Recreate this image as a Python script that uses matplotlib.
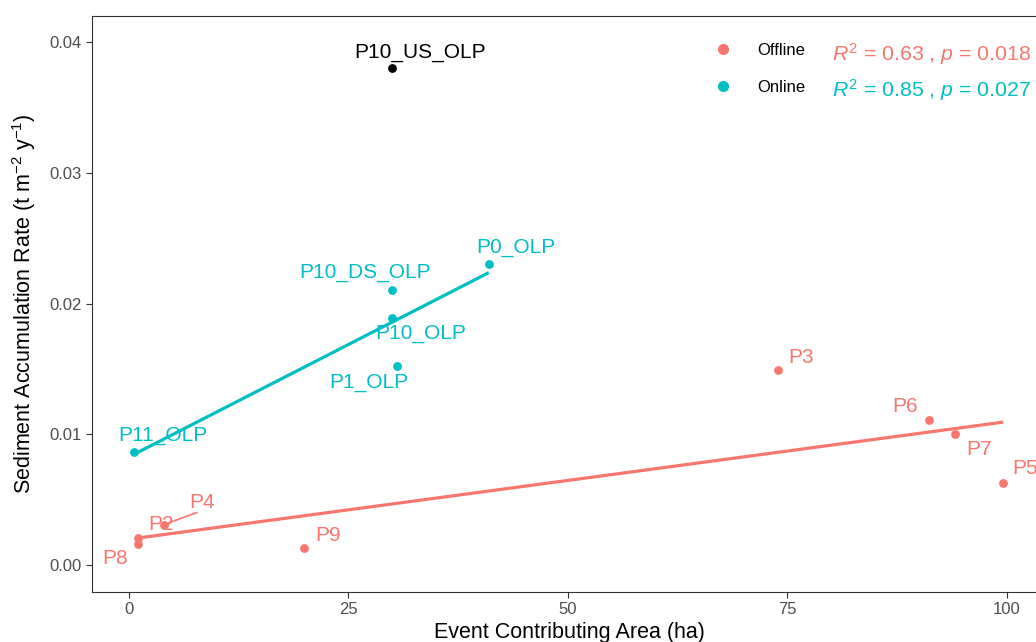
import numpy as np
import matplotlib
matplotlib.use("Agg")
import matplotlib.pyplot as plt
from matplotlib.lines import Line2D

plt.rcParams['font.family'] = ['Liberation Sans', 'DejaVu Sans']
plt.rcParams['mathtext.fontset'] = 'custom'
plt.rcParams['mathtext.rm'] = 'Liberation Sans'
plt.rcParams['mathtext.it'] = 'Liberation Sans:italic'

# event contributing area (ha) and sediment accumulation rate (t m-2 y-1)
off_names = ['P8', 'P2', 'P4', 'P9', 'P3', 'P6', 'P7', 'P5']
off_area = [1.0, 1.0, 4.0, 20.0, 74.0, 91.1, 94.1, 99.6]
off_rate = [0.0016, 0.0021, 0.0031, 0.0013, 0.0149, 0.0111, 0.0100, 0.0063]

on_names = ['P11_OLP', 'P10_DS_OLP', 'P10_OLP', 'P1_OLP', 'P0_OLP']
on_area = [0.57, 30.0, 30.0, 30.5, 41.0]
on_rate = [0.00864, 0.0210, 0.0189, 0.0152, 0.0230]

other_name = 'P10_US_OLP'
other_area = 30.0
other_rate = 0.0380

off_stats = '$R^2$ = 0.63 , $p$ = 0.018'
on_stats = '$R^2$ = 0.85 , $p$ = 0.027'

# label offsets in pixels (dx, dy)
label_off = {
    'P8': (-23, -14), 'P2': (23, 13), 'P4': (38, 22), 'P9': (24, 13),
    'P3': (23, 13), 'P6': (-23, 13), 'P7': (24, -15), 'P5': (22, 14),
    'P11_OLP': (29, 17), 'P10_DS_OLP': (-27, 18), 'P10_OLP': (28, -16),
    'P1_OLP': (-28, -16), 'P0_OLP': (27, 17), 'P10_US_OLP': (28, 16),
}

c_off = '#F8766D'
c_on = '#00BFC4'

fig = plt.figure(figsize=(10.36, 6.42), dpi=100)
ax = fig.add_axes([92 / 1036, 50 / 642, 955 / 1036, 576 / 642])


def fit_line(x, y, color):
    x = np.asarray(x)
    k, b = np.polyfit(x, y, 1)
    xs = np.array([x.min(), x.max()])
    ax.plot(xs, k * xs + b, color=color, lw=2.3, solid_capstyle='butt', zorder=2)


fit_line(off_area, off_rate, c_off)
fit_line(on_area, on_rate, c_on)

ax.scatter(off_area, off_rate, s=40, color=c_off, zorder=3, linewidths=0)
ax.scatter(on_area, on_rate, s=40, color=c_on, zorder=3, linewidths=0)
ax.scatter([other_area], [other_rate], s=40, color='black', zorder=3, linewidths=0)


def put_labels(names, xs, ys, color):
    for n, x, y in zip(names, xs, ys):
        dx, dy = label_off[n]
        ax.annotate(n, (x, y), xytext=(dx, dy), textcoords='offset pixels',
                    ha='center', va='center', color=color, fontsize=15)


put_labels(off_names, off_area, off_rate, c_off)
put_labels(on_names, on_area, on_rate, c_on)
put_labels([other_name], [other_area], [other_rate], 'black')

# P4 leader segment
ax.annotate('', (4.0, 0.0031), xytext=(33, 12), textcoords='offset pixels',
            arrowprops=dict(arrowstyle='-', color=c_off, lw=1.2, shrinkA=0, shrinkB=3))

ax.set_xlim(-4.2, 104.6)
ax.set_ylim(-0.00206, 0.04199)
ax.set_xticks([0, 25, 50, 75, 100])
ax.set_yticks([0.0, 0.01, 0.02, 0.03, 0.04])
ax.set_yticklabels(['0.00', '0.01', '0.02', '0.03', '0.04'])
ax.tick_params(labelsize=12, colors='#333333', labelcolor='#4D4D4D', length=4, width=0.8)
for s in ax.spines.values():
    s.set_color('#333333')
    s.set_linewidth(0.8)

ax.set_xlabel('Event Contributing Area (ha)', fontsize=15.5, labelpad=3)
ax.set_ylabel('Sediment Accumulation Rate (t m$^{-2}$ y$^{-1}$)', fontsize=15.5, labelpad=8)

handles = [Line2D([], [], ls='', marker='o', ms=8, color=c_off, mec='none'),
           Line2D([], [], ls='', marker='o', ms=8, color=c_on, mec='none')]
ax.legend(handles, ['Offline', 'Online'], loc='upper left',
          bbox_to_anchor=(706 / 1036, 1 - 43 / 642), bbox_transform=fig.transFigure,
          frameon=False, fontsize=12, handletextpad=1.1, labelspacing=1.3,
          borderaxespad=0, borderpad=0)

ax.text(80.07, 0.0391, off_stats, color=c_off, fontsize=15.3, va='center', ha='left')
ax.text(80.07, 0.0363, on_stats, color=c_on, fontsize=15.3, va='center', ha='left')

fig.savefig('out.png', dpi=100)
